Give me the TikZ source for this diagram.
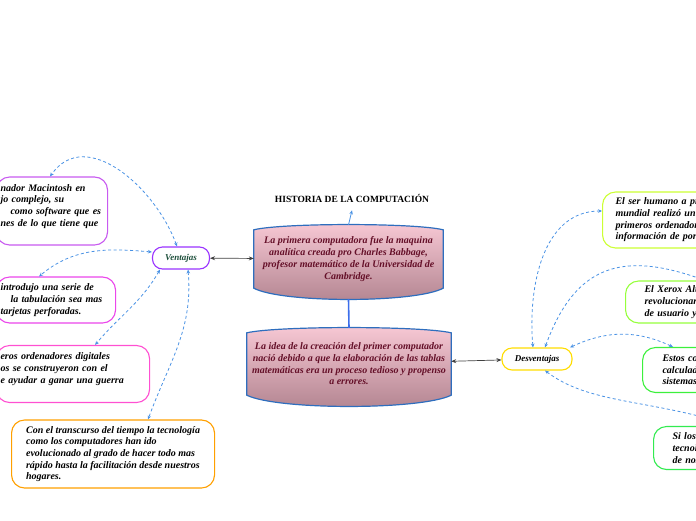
\documentclass[tikz,border=0pt]{standalone}
\usepackage{fontspec}
\setmainfont{Liberation Serif}
\usetikzlibrary{arrows.meta, positioning, calc, backgrounds}
\definecolor{linkblue}{RGB}{74,146,228}
\definecolor{stemblue}{RGB}{60,110,235}
\definecolor{drumedge}{RGB}{46,110,190}
\definecolor{drumtop}{RGB}{247,200,212}
\definecolor{drumbot}{RGB}{178,132,144}
\definecolor{inkred}{RGB}{100,15,40}
\definecolor{venedge}{RGB}{153,51,255}
\definecolor{inkgreen}{RGB}{30,80,60}
\definecolor{desedge}{RGB}{255,221,0}
\definecolor{leftA}{RGB}{200,90,240}
\definecolor{leftB}{RGB}{235,70,235}
\definecolor{leftC}{RGB}{255,80,210}
\definecolor{leftD}{RGB}{255,160,0}
\definecolor{rightA}{RGB}{204,255,51}
\definecolor{rightB}{RGB}{150,255,60}
\definecolor{rightC}{RGB}{60,240,60}
\definecolor{rightD}{RGB}{50,235,80}

% barrel outline round a central node
\newcommand{\drumshape}[1]{%
  \path[drum] (#1.north west)
    .. controls ($(#1.north west)!0.15!(#1.north east)+(0,-7)$) and ($(#1.north west)!0.85!(#1.north east)+(0,-7)$) .. (#1.north east)
    -- (#1.south east)
    .. controls ($(#1.south west)!0.85!(#1.south east)+(0,15)$) and ($(#1.south west)!0.15!(#1.south east)+(0,15)$) .. (#1.south west)
    -- cycle;}

\begin{document}
\begin{tikzpicture}[x=1pt, y=-1pt,
  title/.style={font=\bfseries\fontsize{9.5}{11}\selectfont, inner sep=0pt},
  drumtext/.style={align=center, text=inkred, inner sep=0pt, font=\bfseries\itshape\fontsize{10}{11.7}\selectfont},
  drum/.style={draw=drumedge, line width=1.2pt, top color=drumtop, bottom color=drumbot},
  branch/.style={rectangle, rounded corners=10pt, draw, line width=1.1pt, fill=white, minimum height=22pt, inner sep=2pt, font=\bfseries\itshape\fontsize{9}{11}\selectfont},
  leaf/.style={rectangle, rounded corners=13pt, draw, line width=1.1pt, fill=white, align=left, anchor=west, font=\bfseries\itshape\fontsize{10}{11.7}\selectfont},
  pair/.style={draw=black!75, line width=0.7pt, arrows={Stealth[length=5pt,width=4pt]-Stealth[length=5pt,width=4pt]}},
  stem/.style={draw=stemblue, line width=1.6pt},
  lead/.style={draw=linkblue, line width=0.8pt, -{Stealth[length=4pt,width=3.5pt]}},
  link/.style={draw=linkblue, line width=0.8pt, dash pattern=on 3pt off 2.5pt, arrows={Stealth[length=4pt,width=3.5pt]-Stealth[length=4pt,width=3.5pt]}}]
  \useasboundingbox (0,0) rectangle (696,520);
  \clip (0,0) rectangle (696,520);

  % centre
  \node[title] (hist) at (352,198) {HISTORIA DE LA COMPUTACIÓN};
  \node[drumtext, minimum width=189pt, minimum height=58pt] (prim) at (348.5,259) {La primera computadora fue la maquina\\analítica creada pro Charles Babbage,\\profesor matemático de la Universidad de\\Cambridge.};
  \node[drumtext, minimum width=204pt, minimum height=62pt] (idea) at (349,364) {La idea de la creación del primer computador\\nació debido a que la elaboración de las tablas\\matemáticas era un proceso tedioso y propenso\\a errores.};
  \begin{scope}[on background layer]
    \drumshape{prim}
    \drumshape{idea}
  \end{scope}

  \node[branch, draw=venedge, text=inkgreen, minimum width=57pt] (ven) at (181,258) {Ventajas};
  \node[branch, draw=desedge, minimum width=70pt] (des) at (537,359) {Desventajas};

  % left leaves
  \node[leaf, draw=leftA, text width=103pt, inner xsep=4pt, minimum height=68pt] (macin) at (-4,211) {nador Macintosh en\\jo complejo, su\\\hspace*{10pt}como software que es\\nes de lo que tiene que\\\mbox{}};
  \node[leaf, draw=leftB, text width=111pt, inner xsep=4pt, minimum height=46pt] (tab) at (-4,300) {introdujo una serie de\\\hspace*{10pt}la tabulación sea mas\\tarjetas perforadas.};
  \node[leaf, draw=leftC, text width=145pt, inner xsep=4pt, minimum height=57pt] (digit) at (-4,374) {eros ordenadores digitales\\os se construyeron con el\\e ayudar a ganar una guerra\\\mbox{}};
  \node[leaf, draw=leftD, inner xsep=4pt, minimum width=203pt, minimum height=68pt] (trans) at (11,454) {Con el transcurso del tiempo la tecnología\\como los computadores han ido\\evolucionado al grado de hacer todo mas\\rápido hasta la facilitación desde nuestros\\hogares.};

  % right leaves
  \node[leaf, draw=rightA, text width=150pt, inner xsep=13pt, minimum height=56pt] (human) at (602,220) {El ser humano a pr\\mundial realizó un\\primeros ordenador\\información de por};
  \node[leaf, draw=rightB, text width=150pt, inner xsep=19pt, minimum height=42pt] (xerox) at (625,302) {El Xerox Alt\\revolucionar\\de usuario y};
  \node[leaf, draw=rightC, text width=150pt, inner xsep=20pt, minimum height=45pt] (calc) at (642,370) {Estos co\\calculad\\sistemas};
  \node[leaf, draw=rightD, text width=150pt, inner xsep=19pt, minimum height=43pt] (sil) at (653,448) {Si los\\tecnol\\de nos};

  % connectors
  \draw[lead] ([yshift=5pt]prim.north) -- ([yshift=-8pt]hist.south);
  \draw[stem] ([yshift=-11pt]prim.south) -- ([yshift=5pt]idea.north);
  \draw[pair] (ven) -- (prim);
  \draw[pair] (idea) -- (des);

  \draw[link] ([xshift=-4pt]ven.north) to[out=110,in=55,looseness=1.1] ([xshift=-2pt]macin.north);
  \draw[link] ([yshift=6pt]ven.west) to[out=175,in=40] ([xshift=-17pt]tab.north);
  \draw[link] ([xshift=-21pt]ven.south) to[out=240,in=50] ([xshift=22pt]digit.north);
  \draw[link] ([xshift=7pt]ven.south) to[out=-85,in=70] ([xshift=35pt]trans.north);

  \draw[link] ([xshift=-4pt]des.north) to[out=95,in=180] ([yshift=9pt]human.west);
  \draw[link] ([xshift=8pt]des.north) to[out=70,in=160,looseness=1.3] ([xshift=80pt]xerox.north west);
  \draw[link] ([xshift=33pt]des.north) to[out=25,in=155] ([xshift=31pt]calc.north west);
  \draw[link] ([xshift=8pt]des.south) .. controls +(45,34) and +(-83,-27) .. ([xshift=80pt]sil.north west);
\end{tikzpicture}
\end{document}
